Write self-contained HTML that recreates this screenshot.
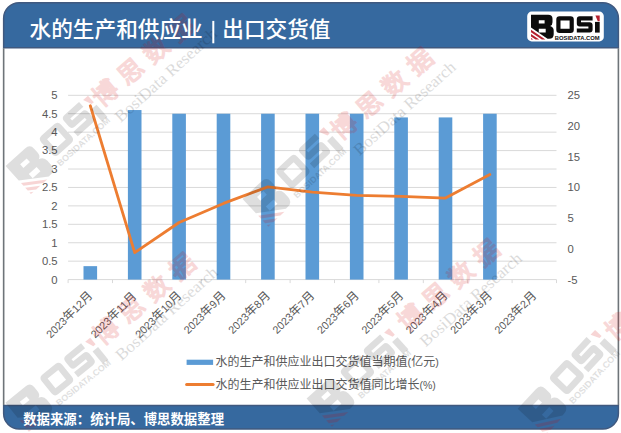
<!DOCTYPE html>
<html lang="zh"><head><meta charset="utf-8"><title>水的生产和供应业 | 出口交货值</title>
<style>
html,body{margin:0;padding:0;background:#fff;}
svg{display:block;font-family:"Liberation Sans","Noto Sans CJK SC",sans-serif;}
</style></head>
<body>
<svg width="621" height="433" viewBox="0 0 621 433">
<defs>
<path id="lgB" fill-rule="evenodd" d="M3.8 3.1H21Q25.3 3.1 25.3 7.2V10.6Q25.3 13.6 23 14.4Q26.5 15.4 26.5 19V22.6Q26.5 27.2 21.8 27.2H20.3L3.8 16ZM11.6 8.7H17.4V11.9H11.6ZM11.6 17.2H18.5V21H11.6Z"/>
<g id="lgO">
<path fill-rule="evenodd" d="M32.3 4.7H43.4Q46.6 4.7 46.6 7.9V18.2Q46.6 21.4 43.4 21.4H32.3Q29.1 21.4 29.1 18.2V7.9Q29.1 4.7 32.3 4.7ZM33.3 8.9V17.2H42.4V8.9Z"/>
<path d="M65.4 4.7H52.5Q49.6 4.7 49.6 7.7V12Q49.6 14.95 52.5 14.95H61.2V16.8H49.6V21H62.4Q65.4 21 65.4 18V13.7Q65.4 10.75 62.4 10.75H53.8V8.9H65.4Z"/>
</g>
<path id="lgI" d="M67.8 10.3H72.5V21H67.8Z"/>
<path id="lgD" d="M68.2 3.9H72.5V9.6H70.6Z"/>
<path id="lgS" d="M3.8 18.2L18.2 28H14.6L3.8 20.7ZM3.8 22.4L12 28H8.4L3.8 24.9ZM3.8 26.5L6 28H3.8Z"/>
<g id="wml"><g><g fill="#000" opacity="0.125"><use href="#lgB" transform="translate(-2.5 0.6)"/><use href="#lgO"/><use href="#lgI" transform="translate(0.2 3.4)"/></g><g fill="#d40000" opacity="0.16"><use href="#lgD" transform="translate(0 1.7)"/><use href="#lgS" transform="translate(-2.5 0.6)"/></g><text x="27.6" y="28.1" font-size="5.8" font-weight="bold" fill="#000" opacity="0.125" textLength="44.9" lengthAdjust="spacingAndGlyphs">BOSIDATA.COM</text></g></g><g id="wmt"><g transform="rotate(-40.4)" opacity="0.15" fill="#d40000" stroke="#d40000" stroke-width="1.4" stroke-linejoin="round"><text x="120.5" y="17.8" font-size="25" letter-spacing="8.2" font-family="&quot;Liberation Sans&quot;,&quot;Noto Sans CJK SC&quot;,sans-serif">博思数据</text></g><text transform="rotate(-42)" x="124" y="45" font-family="Liberation Serif,serif" font-size="16.5" fill="#000" opacity="0.14" textLength="131" lengthAdjust="spacingAndGlyphs">BosiData Research</text></g></defs>
<rect x="0" y="0" width="621" height="433" fill="#fff"/>
<g id="chart">
<g stroke="#D9D9D9" stroke-width="1"><line x1="68.1" x2="556.5" y1="279.6" y2="279.6"/><line x1="68.1" x2="556.5" y1="261.17" y2="261.17"/><line x1="68.1" x2="556.5" y1="242.74" y2="242.74"/><line x1="68.1" x2="556.5" y1="224.31" y2="224.31"/><line x1="68.1" x2="556.5" y1="205.88" y2="205.88"/><line x1="68.1" x2="556.5" y1="187.45" y2="187.45"/><line x1="68.1" x2="556.5" y1="169.02" y2="169.02"/><line x1="68.1" x2="556.5" y1="150.59" y2="150.59"/><line x1="68.1" x2="556.5" y1="132.16" y2="132.16"/><line x1="68.1" x2="556.5" y1="113.73" y2="113.73"/><line x1="68.1" x2="556.5" y1="95.3" y2="95.3"/></g>
<g stroke="#D9D9D9" stroke-width="1"><line x1="68.1" x2="68.1" y1="279.6" y2="283.1"/><line x1="112.5" x2="112.5" y1="279.6" y2="283.1"/><line x1="156.9" x2="156.9" y1="279.6" y2="283.1"/><line x1="201.3" x2="201.3" y1="279.6" y2="283.1"/><line x1="245.7" x2="245.7" y1="279.6" y2="283.1"/><line x1="290.1" x2="290.1" y1="279.6" y2="283.1"/><line x1="334.5" x2="334.5" y1="279.6" y2="283.1"/><line x1="378.9" x2="378.9" y1="279.6" y2="283.1"/><line x1="423.3" x2="423.3" y1="279.6" y2="283.1"/><line x1="467.7" x2="467.7" y1="279.6" y2="283.1"/><line x1="512.1" x2="512.1" y1="279.6" y2="283.1"/><line x1="556.5" x2="556.5" y1="279.6" y2="283.1"/></g>
<g fill="#5B9BD5"><rect x="83.5" y="266.15" width="13.6" height="13.45"/><rect x="127.9" y="110.04" width="13.6" height="169.56"/><rect x="172.3" y="113.73" width="13.6" height="165.87"/><rect x="216.7" y="113.73" width="13.6" height="165.87"/><rect x="261.1" y="113.73" width="13.6" height="165.87"/><rect x="305.5" y="113.73" width="13.6" height="165.87"/><rect x="349.9" y="113.73" width="13.6" height="165.87"/><rect x="394.3" y="117.42" width="13.6" height="162.18"/><rect x="438.7" y="117.42" width="13.6" height="162.18"/><rect x="483.1" y="113.73" width="13.6" height="165.87"/></g>
<polyline points="90.3,105.74 134.7,252.57 179.1,222.47 223.5,203.42 267.9,186.84 312.3,192.06 356.7,195.31 401.1,196.3 445.5,198.08 489.9,174.55" fill="none" stroke="#ED7D31" stroke-width="2.8" stroke-linejoin="round" stroke-linecap="round"/>
<g font-size="11.3" fill="#595959"><text x="57.6" y="283.5" text-anchor="end">0</text><text x="57.6" y="265.07" text-anchor="end">0.5</text><text x="57.6" y="246.64" text-anchor="end">1</text><text x="57.6" y="228.21" text-anchor="end">1.5</text><text x="57.6" y="209.78" text-anchor="end">2</text><text x="57.6" y="191.35" text-anchor="end">2.5</text><text x="57.6" y="172.92" text-anchor="end">3</text><text x="57.6" y="154.49" text-anchor="end">3.5</text><text x="57.6" y="136.06" text-anchor="end">4</text><text x="57.6" y="117.63" text-anchor="end">4.5</text><text x="57.6" y="99.2" text-anchor="end">5</text></g>
<g font-size="11.3" fill="#595959"><text x="567.5" y="283.5">-5</text><text x="567.5" y="252.78">0</text><text x="567.5" y="222.07">5</text><text x="567.5" y="191.35">10</text><text x="567.5" y="160.63">15</text><text x="567.5" y="129.92">20</text><text x="567.5" y="99.2">25</text></g>
<g id="xlabels" fill="#595959" font-size="10.8"><g transform="translate(93.3 296.4) rotate(-45)"><text x="-60.03" y="0">2023<tspan font-size="12">年</tspan>12<tspan font-size="12">月</tspan></text></g><g transform="translate(137.7 296.4) rotate(-45)"><text x="-60.03" y="0">2023<tspan font-size="12">年</tspan>11<tspan font-size="12">月</tspan></text></g><g transform="translate(182.1 296.4) rotate(-45)"><text x="-60.03" y="0">2023<tspan font-size="12">年</tspan>10<tspan font-size="12">月</tspan></text></g><g transform="translate(226.5 296.4) rotate(-45)"><text x="-54.02" y="0">2023<tspan font-size="12">年</tspan>9<tspan font-size="12">月</tspan></text></g><g transform="translate(270.9 296.4) rotate(-45)"><text x="-54.02" y="0">2023<tspan font-size="12">年</tspan>8<tspan font-size="12">月</tspan></text></g><g transform="translate(315.3 296.4) rotate(-45)"><text x="-54.02" y="0">2023<tspan font-size="12">年</tspan>7<tspan font-size="12">月</tspan></text></g><g transform="translate(359.7 296.4) rotate(-45)"><text x="-54.02" y="0">2023<tspan font-size="12">年</tspan>6<tspan font-size="12">月</tspan></text></g><g transform="translate(404.1 296.4) rotate(-45)"><text x="-54.02" y="0">2023<tspan font-size="12">年</tspan>5<tspan font-size="12">月</tspan></text></g><g transform="translate(448.5 296.4) rotate(-45)"><text x="-54.02" y="0">2023<tspan font-size="12">年</tspan>4<tspan font-size="12">月</tspan></text></g><g transform="translate(492.9 296.4) rotate(-45)"><text x="-54.02" y="0">2023<tspan font-size="12">年</tspan>3<tspan font-size="12">月</tspan></text></g><g transform="translate(537.3 296.4) rotate(-45)"><text x="-54.02" y="0">2023<tspan font-size="12">年</tspan>2<tspan font-size="12">月</tspan></text></g></g>
<rect x="186.6" y="359.7" width="26.5" height="5.2" fill="#5B9BD5"/>
<line x1="186.6" x2="213.1" y1="384.4" y2="384.4" stroke="#ED7D31" stroke-width="3" stroke-linecap="round"/>
<text x="215.5" y="366.3" font-size="12" fill="#595959">水的生产和供应业出口交货值当期值<tspan font-size="10.8">(</tspan>亿元<tspan font-size="10.8">)</tspan></text>
<text x="215.5" y="388.8" font-size="12" fill="#595959">水的生产和供应业出口交货值同比增长<tspan font-size="10.5">(%)</tspan></text>
</g>
<path d="M3.65 47.699999999999996 V18.15 a15.5 15.5 0 0 1 15.5 -15.5 H602.9 a15.5 15.5 0 0 1 15.5 15.5 V47.699999999999996 Z" fill="#36699F" stroke="#40597F" stroke-width="1.5"/>
<path d="M3.65 405.6 V413.55 a15.5 15.5 0 0 0 15.5 15.5 H602.9 a15.5 15.5 0 0 0 15.5 -15.5 V405.6 Z" fill="#36699F" stroke="#40597F" stroke-width="1.5"/>
<path d="M3.65 48.3V405.0M618.4 48.3V405.0" stroke="#6e7479" stroke-width="1.6" fill="none"/>
<g><use href="#wml" transform="translate(0.4 163.1) rotate(-42) scale(1.52)"/><use href="#wmt" transform="translate(-1.5 172.5)"/><use href="#wml" transform="translate(237.3 196.2) rotate(-43) scale(1.52)"/><use href="#wmt" transform="translate(237.2 205.7)"/><use href="#wml" transform="translate(0.4 399.6) rotate(-39) scale(1.5)"/><use href="#wmt" transform="translate(-0.7 410.9)"/><use href="#wml" transform="translate(301.4 395.7) rotate(-42) scale(1.52)"/><use href="#wmt" transform="translate(303.5 397)"/><use href="#wml" transform="translate(512.1 406.2) rotate(-47) scale(1.55)"/><use href="#wmt" transform="translate(511.1 406.4)"/></g>
<text x="29.6" y="37" font-size="21.65" font-weight="500" fill="#fff">水的生产和供应业</text>
<rect x="212.3" y="20.9" width="2" height="22.4" fill="#fff"/>
<text x="222.3" y="37" font-size="21.65" font-weight="500" fill="#fff">出口交货值</text>
<text x="23.2" y="423.6" font-size="13.4" font-weight="bold" fill="#fff">数据来源：统计局、博思数据整理</text>
<g transform="translate(527.2 11.6)">
<rect x="0" y="0" width="76.6" height="29.8" rx="4.5" fill="#fff"/>
<g fill="#0c0c0c"><use href="#lgB"/><use href="#lgO"/><use href="#lgI"/></g><g fill="#B5202F"><use href="#lgD"/><use href="#lgS"/></g>
<text x="27.6" y="28.1" font-size="5.8" font-weight="bold" fill="#111" textLength="44.9" lengthAdjust="spacingAndGlyphs">BOSIDATA.COM</text>
</g>
</svg>
</body></html>
